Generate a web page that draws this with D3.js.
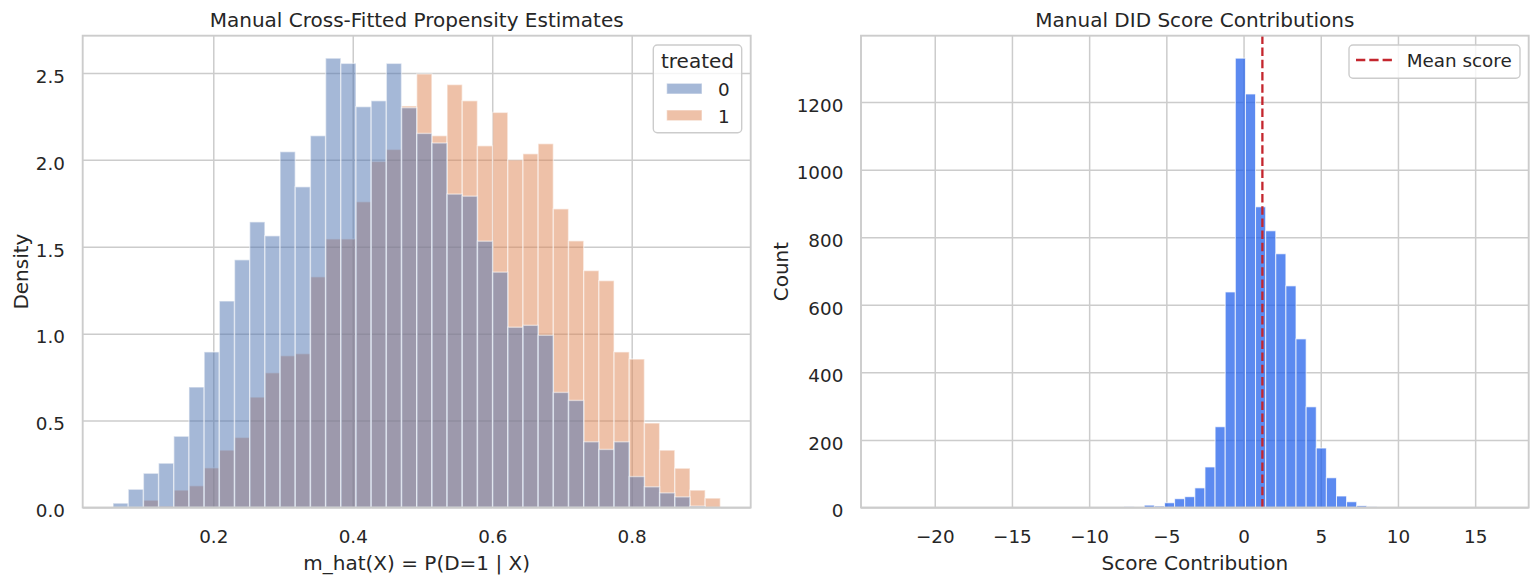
<!DOCTYPE html>
<html><head><meta charset="utf-8">
<script src="https://cdn.jsdelivr.net/npm/d3@7"></script>
<style>
body{margin:0;background:#fff}
svg{display:block}
text{font-family:"DejaVu Sans",sans-serif;fill:#262626}
</style>
</head><body>
<svg id="chart" width="1540" height="580"></svg>
<script>
// ---------------- data ----------------
// Left panel: propensity histogram (density), 40 shared bins
const propBinStart = 0.0563;
const propBinWidth = 0.02177;
const treatedLevels = ["0", "1"];
const densityTreated0 = [0.025, 0.105, 0.197, 0.255, 0.41, 0.693, 0.895, 1.188, 1.425, 1.643,
  1.563, 2.047, 1.845, 2.139, 2.585, 2.555, 2.306, 2.34, 2.555, 2.30,
  2.152, 2.097, 1.803, 1.791, 1.532, 1.354, 1.037, 1.048, 0.991, 0.662,
  0.616, 0.378, 0.334, 0.378, 0.178, 0.119, 0.084, 0.061, 0.008, 0];
const densityTreated1 = [0, 0, 0.042, 0.008, 0.1, 0.125, 0.228, 0.33, 0.403, 0.635,
  0.775, 0.873, 0.885, 1.327, 1.545, 1.545, 1.759, 1.991, 2.06, 2.31,
  2.494, 2.139, 2.433, 2.34, 2.081, 2.273, 2.0, 2.035, 2.093, 1.718,
  1.534, 1.363, 1.305, 0.895, 0.854, 0.486, 0.33, 0.226, 0.1, 0.054];
const propXTicks = [0.2, 0.4, 0.6, 0.8];
const propYTicks = [0, 0.5, 1.0, 1.5, 2.0, 2.5];

// Right panel: DID score contributions (count), 60 bins
const scoreBinStart = -22.81;
const scoreBinWidth = 0.6552;
const scoreCounts = [1, 0, 0, 0, 0, 0, 0, 0, 0, 0,
  0, 0, 0, 0, 0, 0, 0, 0, 0, 0,
  0, 1, 1, 2, 1, 7, 4, 14, 26, 32,
  58, 120, 239, 638, 1330, 1224, 890, 819, 751, 656,
  499, 298, 176, 88, 34, 17, 5, 2, 1, 0,
  0, 0, 0, 0, 0, 0, 0, 0, 0, 1];
const meanScore = 1.22;
const scoreXTicks = [-20, -15, -10, -5, 0, 5, 10, 15];
const scoreYTicks = [0, 200, 400, 600, 800, 1000, 1200];

// ---------------- style ----------------
const TICK_FS = 18.33, LABEL_FS = 20;
const GRID = "#cccccc";
const svg = d3.select("#chart");

function makeBins(start, width, values) {
  return values.map((v, i) => ({x0: start + i * width, x1: start + (i + 1) * width, v}));
}

function panel(o) {
  const g = svg.append("g");
  const x = d3.scaleLinear().domain(o.xDomain).range([o.left, o.right]);
  const y = d3.scaleLinear().domain([0, o.yMax]).range([o.bottom, o.top]);
  const W = o.right - o.left, H = o.bottom - o.top;

  // grid
  const gx = g.append("g").attr("transform", `translate(0,${o.bottom})`)
    .call(d3.axisBottom(x).tickValues(o.xTicks).tickSize(-H).tickFormat(""));
  const gy = g.append("g").attr("transform", `translate(${o.left},0)`)
    .call(d3.axisLeft(y).tickValues(o.yTicks).tickSize(-W).tickFormat(""));
  [gx, gy].forEach(s => {
    s.select(".domain").remove();
    s.selectAll("line").attr("stroke", GRID).attr("stroke-width", 1.5);
  });

  // bars
  o.series.forEach(sr => {
    g.append("g").selectAll("rect")
      .data(sr.bins.filter(b => b.v > 0)).join("rect")
      .attr("x", b => x(b.x0)).attr("width", b => x(b.x1) - x(b.x0))
      .attr("y", b => y(b.v)).attr("height", b => y(0) - y(b.v))
      .attr("fill", sr.color).attr("fill-opacity", sr.alpha)
      .attr("stroke", "#ffffff").attr("stroke-opacity", sr.alpha)
      .attr("stroke-width", sr.edge);
  });

  if (o.extra) o.extra(g, x, y);

  // spines
  g.append("rect").attr("x", o.left).attr("y", o.top).attr("width", W).attr("height", H)
    .attr("fill", "none").attr("stroke", GRID).attr("stroke-width", 1.9);

  // tick labels
  const tx = g.append("g").attr("transform", `translate(0,${o.bottom})`)
    .call(d3.axisBottom(x).tickValues(o.xTicks).tickSize(0).tickFormat(o.xFmt));
  tx.select(".domain").remove();
  tx.selectAll("text").attr("y", 35).attr("dy", null)
    .style("font-size", TICK_FS + "px").style("font-family", "DejaVu Sans").attr("fill", "#262626");
  const ty = g.append("g").attr("transform", `translate(${o.left},0)`)
    .call(d3.axisLeft(y).tickValues(o.yTicks).tickSize(0).tickFormat(o.yFmt));
  ty.select(".domain").remove();
  ty.selectAll("text").attr("x", -17.7).attr("dy", null).attr("y", 9.3)
    .style("font-size", TICK_FS + "px").style("font-family", "DejaVu Sans").attr("fill", "#262626");

  // title & labels
  const cx = (o.left + o.right) / 2, cy = (o.top + o.bottom) / 2;
  g.append("text").attr("x", cx).attr("y", 27.3).attr("text-anchor", "middle")
    .style("font-size", LABEL_FS + "px").text(o.title);
  g.append("text").attr("x", cx).attr("y", 570.3).attr("text-anchor", "middle")
    .style("font-size", LABEL_FS + "px").text(o.xLabel);
  g.append("text").attr("transform", `translate(${o.yLabelX},${cy}) rotate(-90)`)
    .attr("text-anchor", "middle").style("font-size", LABEL_FS + "px").text(o.yLabel);
  return g;
}

// ---------------- left panel ----------------
const blue = "#4c72b0", orange = "#dd8452";
const propMax = d3.max([...densityTreated0, ...densityTreated1]);
const propSpan = propBinWidth * densityTreated0.length;
panel({
  left: 82.7, right: 750.7, top: 35.7, bottom: 507.5,
  xDomain: [propBinStart - 0.05 * propSpan, propBinStart + 1.05 * propSpan],
  yMax: propMax * 1.05,
  xTicks: propXTicks, yTicks: propYTicks,
  xFmt: d3.format(".1f"), yFmt: d3.format(".1f"),
  // hue levels are layered in reverse order: treated=1 first, treated=0 on top
  series: [
    {bins: makeBins(propBinStart, propBinWidth, densityTreated1), color: orange, alpha: 0.5, edge: 1.4},
    {bins: makeBins(propBinStart, propBinWidth, densityTreated0), color: blue, alpha: 0.5, edge: 1.4}
  ],
  title: "Manual Cross-Fitted Propensity Estimates",
  xLabel: "m_hat(X) = P(D=1 | X)",
  yLabel: "Density", yLabelX: 27.5
});

// legend (left)
const lg = svg.append("g");
lg.append("rect").attr("x", 653.3).attr("y", 45).attr("width", 88.4).attr("height", 87.7)
  .attr("rx", 4).attr("fill", "#ffffff").attr("fill-opacity", 0.8)
  .attr("stroke", GRID).attr("stroke-width", 1.4);
lg.append("text").attr("x", 697.5).attr("y", 68).attr("text-anchor", "middle")
  .style("font-size", LABEL_FS + "px").text("treated");
[blue, orange].forEach((c, i) => {
  const yy = 83.3 + i * 26.7;
  lg.append("rect").attr("x", 666.7).attr("y", yy).attr("width", 35.3).attr("height", 10.7)
    .attr("fill", c).attr("fill-opacity", 0.5)
    .attr("stroke", "#fff").attr("stroke-opacity", 0.5).attr("stroke-width", 1.2);
  lg.append("text").attr("x", 718).attr("y", yy + 12.9)
    .style("font-size", TICK_FS + "px").text(treatedLevels[i]);
});

// ---------------- right panel ----------------
const scoreColor = "#2563eb", meanColor = "#c4262e";
const scoreSpan = scoreBinWidth * scoreCounts.length;
const minusFmt = v => (v < 0 ? "\u2212" + Math.abs(v) : String(v));
panel({
  left: 861, right: 1528.7, top: 35.7, bottom: 507.5,
  xDomain: [scoreBinStart - 0.05 * scoreSpan, scoreBinStart + 1.05 * scoreSpan],
  yMax: d3.max(scoreCounts) * 1.05,
  xTicks: scoreXTicks, yTicks: scoreYTicks,
  xFmt: minusFmt, yFmt: d3.format("d"),
  series: [
    {bins: makeBins(scoreBinStart, scoreBinWidth, scoreCounts), color: scoreColor, alpha: 0.75, edge: 1.0}
  ],
  extra: (g, x, y) => {
    g.append("line").attr("x1", x(meanScore)).attr("x2", x(meanScore))
      .attr("y1", y.range()[0]).attr("y2", y.range()[1])
      .attr("stroke", meanColor).attr("stroke-width", 2.3)
      .attr("stroke-dasharray", "8.5,3.7");
  },
  title: "Manual DID Score Contributions",
  xLabel: "Score Contribution",
  yLabel: "Count", yLabelX: 788.4
});

// legend (right)
const rg = svg.append("g");
rg.append("rect").attr("x", 1349).attr("y", 45).attr("width", 171).attr("height", 33.3)
  .attr("rx", 4).attr("fill", "#ffffff").attr("fill-opacity", 0.8)
  .attr("stroke", GRID).attr("stroke-width", 1.4);
rg.append("line").attr("x1", 1356).attr("x2", 1392).attr("y1", 60).attr("y2", 60)
  .attr("stroke", meanColor).attr("stroke-width", 2.3).attr("stroke-dasharray", "9.3,4");
rg.append("text").attr("x", 1406.7).attr("y", 66.7)
  .style("font-size", TICK_FS + "px").text("Mean score");
</script>
</body></html>
